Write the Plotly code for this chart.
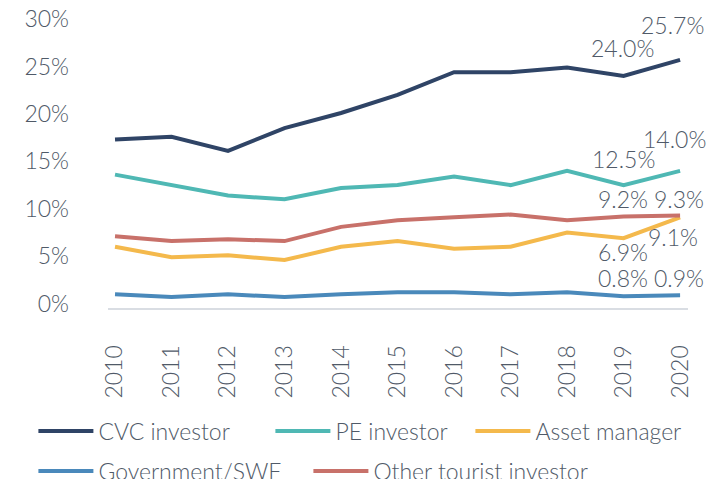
import plotly.graph_objects as go

# Share of deals by investor type, 2010-2020
years = [2010, 2011, 2012, 2013, 2014, 2015, 2016, 2017, 2018, 2019, 2020]

cvc_investor = [17.3, 17.6, 16.1, 18.5, 20.1, 22.0, 24.4, 24.4, 24.9, 24.0, 25.7]
pe_investor = [13.6, 12.5, 11.4, 11.0, 12.2, 12.5, 13.4, 12.5, 14.0, 12.5, 14.0]
asset_manager = [6.0, 4.9, 5.1, 4.6, 6.0, 6.6, 5.8, 6.0, 7.5, 6.9, 9.1]
government_swf = [1.0, 0.7, 1.0, 0.7, 1.0, 1.2, 1.2, 1.0, 1.2, 0.8, 0.9]
other_tourist = [7.1, 6.6, 6.8, 6.6, 8.1, 8.8, 9.1, 9.4, 8.8, 9.2, 9.3]

y_ticks = [0, 5, 10, 15, 20, 25, 30]
y_tick_labels = ["0%", "5%", "10%", "15%", "20%", "25%", "30%"]

FONT = "Lato, 'Open Sans', sans-serif"
TEXT = "#505a68"
FS = 23

# plot area in pixels, used to place the legend entries
W, H = 721, 479
L, R, T, B = 108, 33, 19, 171
PW, PH = W - L - R, H - T - B

series = [
    ("CVC investor", cvc_investor, "#2f4466"),
    ("PE investor", pe_investor, "#4fb8b4"),
    ("Asset manager", asset_manager, "#f4b94c"),
    ("Government/SWF", government_swf, "#4a89bb"),
    ("Other tourist investor", other_tourist, "#c8716a"),
]
# legend entry positions (left edge of the line swatch, row centre) in pixels
legend_pos = [(40, 431), (277, 431), (477, 431), (40, 471), (315, 471)]
legend_names = ["legend", "legend2", "legend3", "legend4", "legend5"]

fig = go.Figure()
for (name, vals, color), leg in zip(series, legend_names):
    fig.add_trace(go.Scatter(
        x=years, y=vals, name=name, mode="lines",
        line=dict(color=color, width=4),
        legend=leg, hoverinfo="skip",
    ))

# value labels for the last two years: (series index, year index, xshift, yshift)
label_spec = [
    (0, 9, -1, 28), (0, 10, -8, 35),
    (1, 9, 0, 26), (1, 10, -6, 32),
    (4, 9, -1, 17), (4, 10, -1, 16),
    (2, 9, -1, -14), (2, 10, -7, -20),
    (3, 9, -1, 18), (3, 10, -1, 17),
]
for si, yi, xs, ys in label_spec:
    v = series[si][1][yi]
    fig.add_annotation(
        x=years[yi], y=v, text=f"{v:.1f}%", showarrow=False,
        xshift=xs, yshift=ys,
        font=dict(family=FONT, size=FS, color=TEXT, weight=300),
    )

legends = {}
for leg, (px, py) in zip(legend_names, legend_pos):
    legends[leg] = dict(
        orientation="h", bgcolor="rgba(0,0,0,0)",
        font=dict(family=FONT, size=FS, color=TEXT, weight=300),
        itemwidth=55, itemclick=False,
        x=(px - 6.6 - L) / PW, y=(H - B - py) / PH,
        xanchor="left", yanchor="middle",
    )

fig.update_layout(
    width=W, height=H,
    margin=dict(l=L, r=R, t=T, b=B, autoexpand=False),
    paper_bgcolor="white", plot_bgcolor="white",
    font=dict(family=FONT, size=FS, color=TEXT, weight=300),
    showlegend=True,
    xaxis=dict(
        range=[2009.876, 2020.14], tickmode="array", tickvals=years,
        ticktext=[str(y) for y in years], tickangle=-90,
        showgrid=False, zeroline=False, showline=True,
        linecolor="#d9dde3", linewidth=2, ticks="",
        ticklabelstandoff=26,
        tickfont=dict(family=FONT, size=FS, color=TEXT, weight=300),
    ),
    yaxis=dict(
        range=[-0.45, 30], tickmode="array", tickvals=y_ticks,
        ticktext=y_tick_labels, showgrid=False, zeroline=False,
        showline=False, ticks="", ticklabelstandoff=38,
        tickfont=dict(family=FONT, size=FS, color=TEXT, weight=300),
    ),
    **legends,
)

fig.write_html("out.html")
